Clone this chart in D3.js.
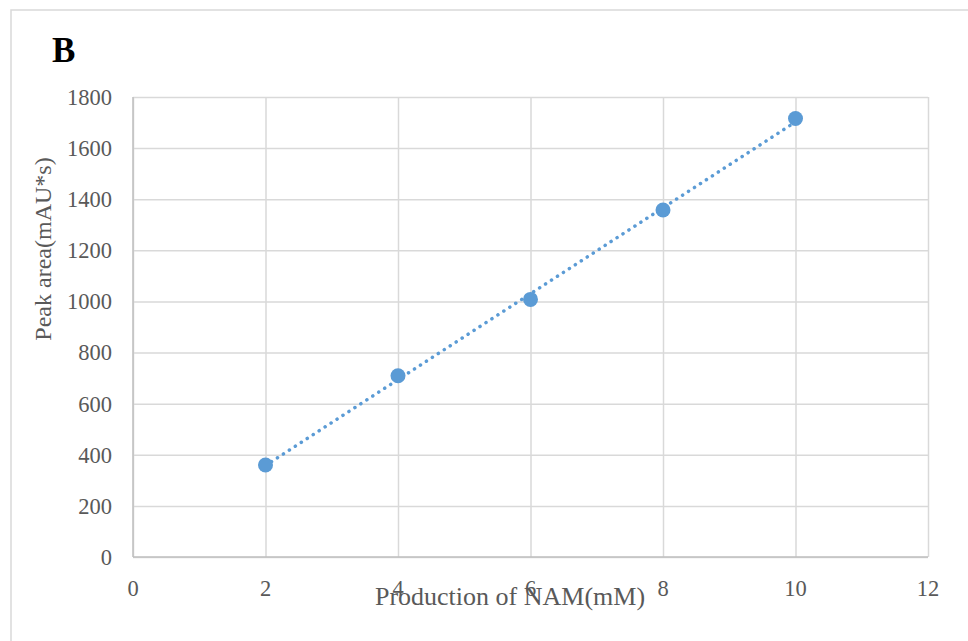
<!DOCTYPE html>
<html>
<head>
<meta charset="utf-8">
<script src="https://cdn.jsdelivr.net/npm/d3@7"></script>
<style>
  body { margin: 0; background: #fff; }
  text { font-family: "Liberation Serif", "Times New Roman", serif; }
</style>
</head>
<body>
<script>
// data
var concentrations = [2, 4, 6, 8, 10];        // mM
var peakAreas = [360, 709, 1008, 1358, 1716]; // mAU*s
var xTicks = [0, 2, 4, 6, 8, 10, 12];
var yTicks = [0, 200, 400, 600, 800, 1000, 1200, 1400, 1600, 1800];

var width = 968, height = 641;
var plotLeft = 133, plotRight = 928, plotTop = 97, plotBottom = 557;

var svg = d3.select("body")
	.append("svg")
	.attr("width", width)
	.attr("height", height);

// outer chart frame
svg.append("rect")
	.attr("x", 11)
	.attr("y", 10)
	.attr("width", 980)
	.attr("height", 660)
	.attr("fill", "none")
	.attr("stroke", "#d9d9d9")
	.style("stroke-width", 1.5);

var x = d3.scaleLinear().domain([0, 12]).range([plotLeft, plotRight]);
var y = d3.scaleLinear().domain([0, 1800]).range([plotBottom, plotTop]);

// grid
svg.append("g")
	.attr("transform", "translate(0," + plotBottom + ")")
	.call(d3.axisBottom(x).tickValues(xTicks).tickSize(-(plotBottom - plotTop)).tickFormat(""))
	.call(g => g.select(".domain").remove())
	.selectAll("line")
	.attr("stroke", "#d9d9d9")
	.style("stroke-width", 1.5);

svg.append("g")
	.attr("transform", "translate(" + plotLeft + ",0)")
	.call(d3.axisLeft(y).tickValues(yTicks).tickSize(-(plotRight - plotLeft)).tickFormat(""))
	.call(g => g.select(".domain").remove())
	.selectAll("line")
	.attr("stroke", "#d9d9d9")
	.style("stroke-width", 1.5);

// axis lines
svg.append("line")
	.attr("x1", plotLeft).attr("x2", plotRight)
	.attr("y1", plotBottom).attr("y2", plotBottom)
	.attr("stroke", "#bfbfbf")
	.style("stroke-width", 1.5);
svg.append("line")
	.attr("x1", plotLeft).attr("x2", plotLeft)
	.attr("y1", plotTop).attr("y2", plotBottom)
	.attr("stroke", "#bfbfbf")
	.style("stroke-width", 1.5);

// tick labels
svg.append("g")
	.selectAll("text")
	.data(xTicks)
	.join("text")
	.attr("x", d => x(d))
	.attr("y", 596)
	.attr("text-anchor", "middle")
	.attr("font-size", "22.5px")
	.attr("fill", "#595959")
	.text(d => d);

svg.append("g")
	.selectAll("text")
	.data(yTicks)
	.join("text")
	.attr("x", 112)
	.attr("y", d => y(d))
	.attr("dy", "0.35em")
	.attr("text-anchor", "end")
	.attr("font-size", "22.5px")
	.attr("fill", "#595959")
	.text(d => d);

// linear trendline (least squares on the points)
var mx = d3.mean(concentrations), my = d3.mean(peakAreas);
var sxy = d3.sum(concentrations, (c, i) => (c - mx) * (peakAreas[i] - my));
var sxx = d3.sum(concentrations, c => (c - mx) * (c - mx));
var slope = sxy / sxx, intercept = my - slope * mx;
var xa = d3.min(concentrations), xb = d3.max(concentrations);

svg.append("line")
	.attr("x1", x(xa)).attr("y1", y(intercept + slope * xa))
	.attr("x2", x(xb)).attr("y2", y(intercept + slope * xb))
	.attr("stroke", "#5b9bd5")
	.style("stroke-width", 3.5)
	.style("stroke-linecap", "round")
	.style("stroke-dasharray", "0.1 7");

// points
svg.append("g")
	.selectAll("circle")
	.data(concentrations)
	.join("circle")
	.attr("cx", d => x(d))
	.attr("cy", (d, i) => y(peakAreas[i]))
	.attr("r", 7.5)
	.attr("fill", "#5b9bd5");

// axis titles
svg.append("text")
	.attr("x", 510)
	.attr("y", 605)
	.attr("text-anchor", "middle")
	.attr("font-size", "26px")
	.attr("fill", "#595959")
	.text("Production of NAM(mM)");

svg.append("text")
	.attr("transform", "translate(51,249)rotate(-90)")
	.attr("text-anchor", "middle")
	.attr("font-size", "24px")
	.attr("fill", "#595959")
	.text("Peak area(mAU*s)");

// panel letter
svg.append("text")
	.attr("x", 52)
	.attr("y", 62)
	.attr("font-size", "35px")
	.attr("font-weight", "bold")
	.attr("fill", "#000")
	.text("B");
</script>
</body>
</html>
